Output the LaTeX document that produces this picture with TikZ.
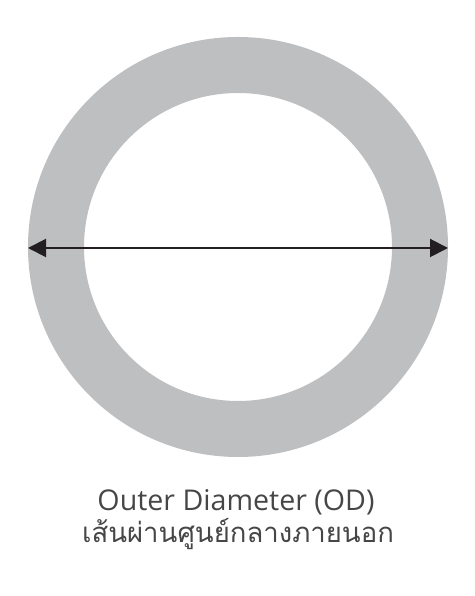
\documentclass[tikz,border=0pt]{standalone}
\usepackage{fontspec}
\setmainfont{Open Sans}
\newfontfamily\thaifont[Script=Thai]{Loma}
\usetikzlibrary{arrows.meta}
\definecolor{ringgray}{RGB}{190,191,193}
\definecolor{arrowblack}{RGB}{35,31,32}
\definecolor{textgray}{RGB}{70,70,70}

\begin{document}
\begin{tikzpicture}[x=1pt,y=1pt]
\useasboundingbox (0,0) rectangle (474,596);

% ring
\fill[ringgray,even odd rule] (238,349) circle (210) (238,349) circle (154);

% diameter arrow
\coordinate (odleft) at (28,348);
\coordinate (odright) at (448,348);
\draw[arrowblack,line width=2pt,{Triangle[length=18pt,width=18pt]}-{Triangle[length=18pt,width=18pt]}] (odleft) -- (odright);

% captions
\node[textgray,font=\fontsize{28.6}{32}\selectfont,anchor=base] (entext) at (236,85) {Outer Diameter (OD)};
\node[textgray,font=\thaifont\fontsize{27.5}{32}\selectfont,anchor=base] (thtext) at (238,53) {เส้นผ่านศูนย์กลางภายนอก};
\end{tikzpicture}
\end{document}
